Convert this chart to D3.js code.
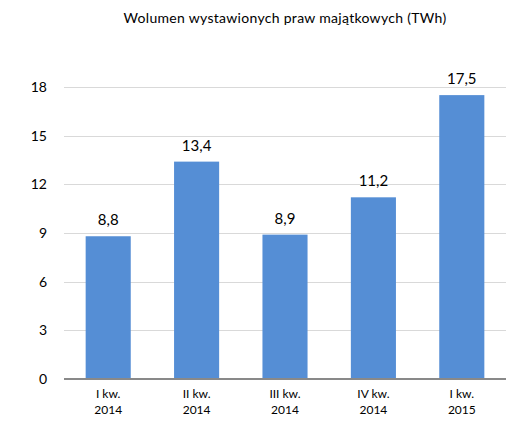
<!DOCTYPE html>
<html><head><meta charset="utf-8">
<script src="https://cdn.jsdelivr.net/npm/d3@7"></script>
<style>body{margin:0;background:#fff}svg{display:block}</style>
</head><body>
<script>
const categories = [["I kw.","2014"],["II kw.","2014"],["III kw.","2014"],["IV kw.","2014"],["I kw.","2015"]];
const values = [8.8, 13.4, 8.9, 11.2, 17.5];
const valueLabels = ["8,8","13,4","8,9","11,2","17,5"];
const yTicks = [0,3,6,9,12,15,18];
const title = "Wolumen wystawionych praw majątkowych (TWh)";

const W=516,H=423;
const svg=d3.select("body").append("svg").attr("width",W).attr("height",H);
const font="Lato, 'Open Sans', sans-serif";
const x=d3.scaleBand().domain(d3.range(values.length)).range([64,506]).paddingInner(0.49).paddingOuter(0.245);
const y=d3.scaleLinear().domain([0,18]).range([379,87]);

svg.append("text").attr("x",285).attr("y",23).attr("text-anchor","middle")
  .attr("font-family",font).attr("font-size",14).attr("letter-spacing",0.3).attr("fill","#000").text(title);

const g=svg.append("g");
g.selectAll("line.grid").data(yTicks.filter(d=>d>0)).join("line").attr("class","grid")
  .attr("x1",64).attr("x2",506).attr("y1",d=>Math.round(y(d))+0.5).attr("y2",d=>Math.round(y(d))+0.5)
  .attr("stroke","#d9d9d9").attr("stroke-width",1);
g.selectAll("text.yt").data(yTicks).join("text").attr("class","yt")
  .attr("x",47).attr("y",d=>y(d)+5).attr("text-anchor","end")
  .attr("font-family",font).attr("font-size",14).attr("fill","#000").text(d=>d);

g.selectAll("rect").data(values).join("rect")
  .attr("x",(d,i)=>x(i)).attr("width",x.bandwidth())
  .attr("y",d=>y(d)).attr("height",d=>y(0)-y(d)).attr("fill","#558ed5");

g.append("line").attr("x1",64).attr("x2",506).attr("y1",y(0)).attr("y2",y(0))
  .attr("stroke","#898989").attr("stroke-width",2);

g.selectAll("text.vl").data(values).join("text").attr("class","vl")
  .attr("x",(d,i)=>x(i)+x.bandwidth()/2).attr("y",d=>y(d)-11).attr("text-anchor","middle")
  .attr("font-family",font).attr("font-size",15).attr("fill","#000").text((d,i)=>valueLabels[i]);

const xl=g.selectAll("text.xl").data(categories).join("text").attr("class","xl")
  .attr("text-anchor","middle").attr("font-family",font).attr("font-size",12).attr("fill","#000");
xl.each(function(d,i){
  const t=d3.select(this);
  const cx=x(i)+x.bandwidth()/2;
  t.append("tspan").attr("x",cx).attr("y",398).text(d[0]);
  t.append("tspan").attr("x",cx).attr("y",414).text(d[1]);
});
</script>
</body></html>
